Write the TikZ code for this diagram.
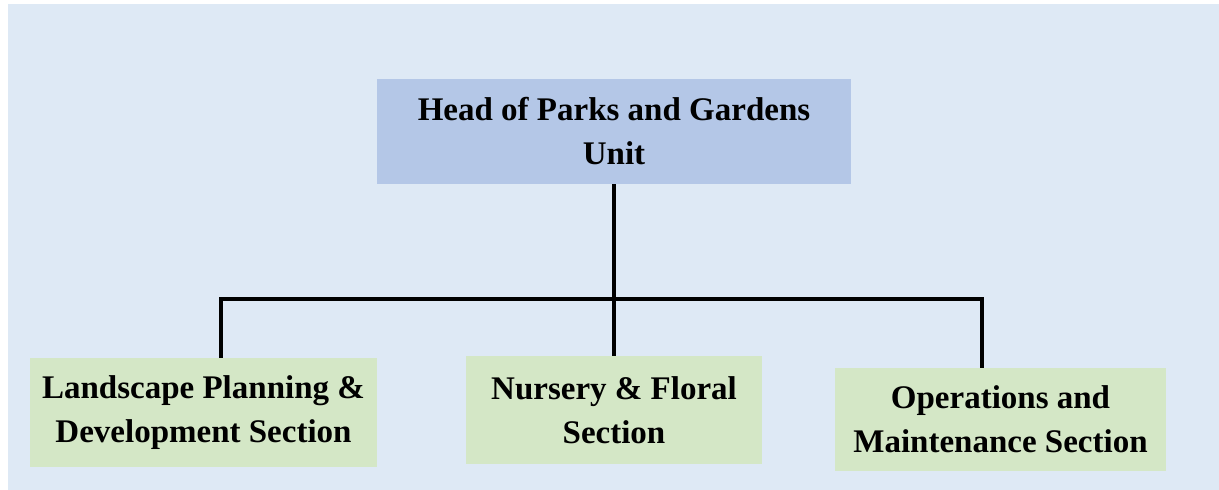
\documentclass[tikz,border=0pt]{standalone}
\usepackage{fontspec}
\setmainfont{Liberation Serif}
\usetikzlibrary{calc}
\definecolor{bgblue}{HTML}{DEE9F5}
\definecolor{headblue}{HTML}{B4C7E7}
\definecolor{secgreen}{HTML}{D4E7C6}
\tikzstyle{unit box}=[fill=headblue,inner sep=0,align=center,font=\fontsize{16.5}{22}\selectfont\bfseries]
\tikzstyle{section box}=[unit box,fill=secgreen]
\tikzstyle{link}=[black,line width=2.4pt]

\begin{document}
\begin{tikzpicture}[x=0.5pt,y=-0.5pt]
  
  % BACKGROUND
  \useasboundingbox (0,0) rectangle (1219,490);
  \fill[bgblue] (8,4) rectangle (1219,490);
  
  % BOXES
  \node[unit box,minimum width=237pt,minimum height=52.5pt] (head) at (614,131.5)
    {Head of Parks and Gardens\\Unit};
  \node[section box,minimum width=173.5pt,minimum height=54.5pt] (land) at (203.5,412.5)
    {Landscape Planning \&\\Development Section};
  \node[section box,minimum width=148pt,minimum height=54pt] (nurs) at (614,410)
    {Nursery \& Floral\\Section};
  \node[section box,minimum width=165.5pt,minimum height=51.5pt] (oper) at (1000.5,419.5)
    {Operations and\\Maintenance Section};
  
  % LINKS
  \coordinate (jl) at (221,299);
  \coordinate (jr) at (982,299);
  \draw[link] (head.south) -- (nurs.north);
  \draw[link] (land.north -| jl) -- (jl) -- (jr) -- (oper.north -| jr);
  
\end{tikzpicture}
\end{document}
